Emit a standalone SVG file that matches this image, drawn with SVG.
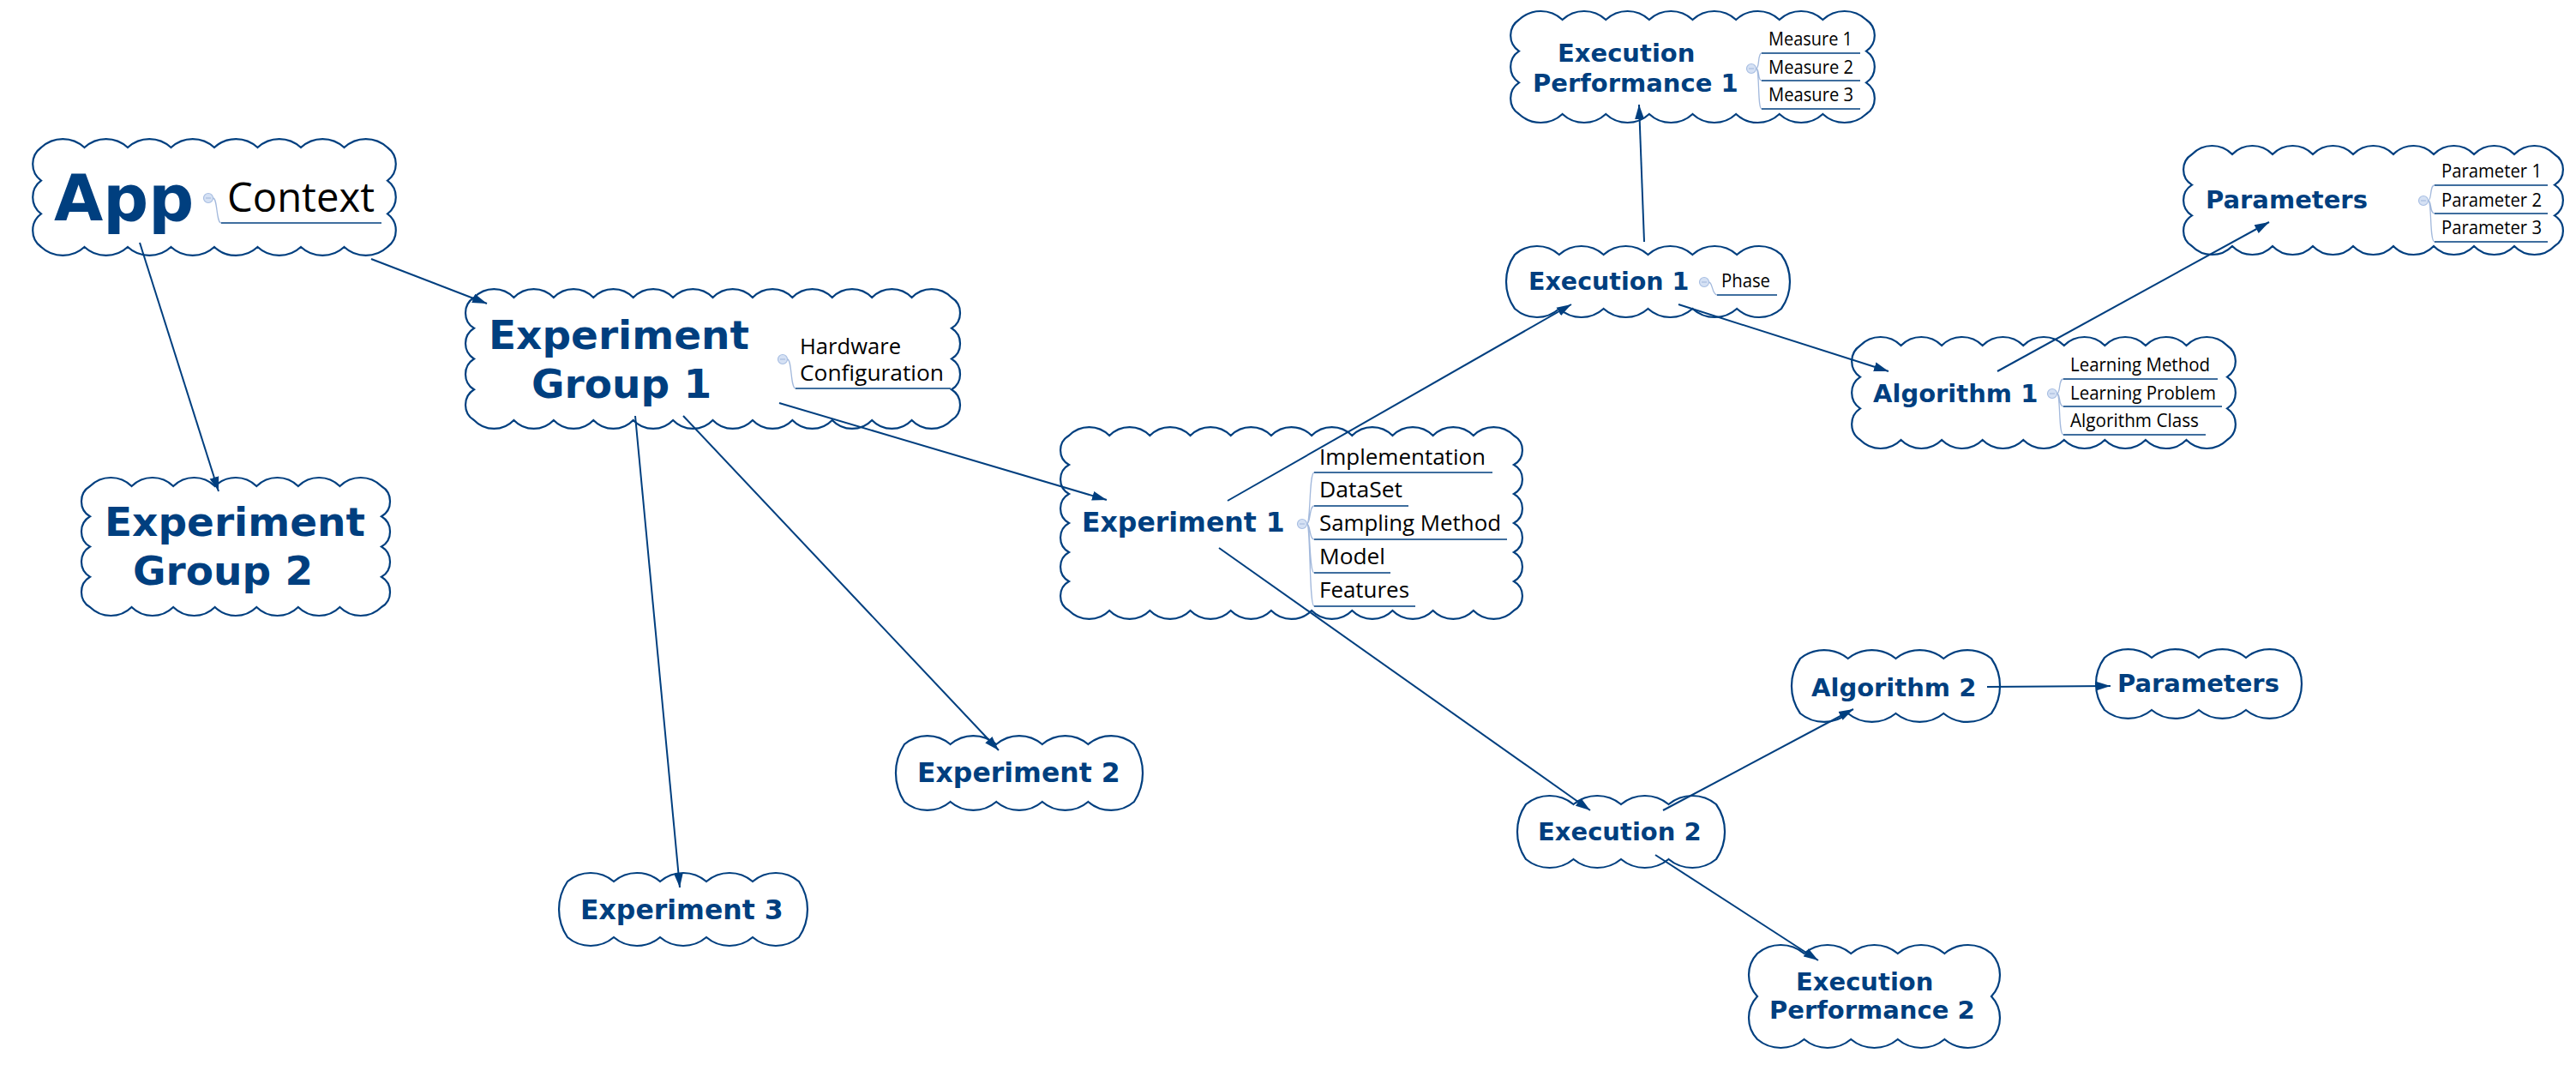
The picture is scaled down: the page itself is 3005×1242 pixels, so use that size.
<svg xmlns="http://www.w3.org/2000/svg" width="3005" height="1242" viewBox="0 0 3005 1242">
<style>
.cloud{fill:#fff;stroke:#003f7f;stroke-width:2.2}
.t{font-family:"DejaVu Sans",sans-serif;font-weight:bold;fill:#003f7f}
.s{font-family:"Open Sans","DejaVu Sans",sans-serif;fill:#000}
.ul{stroke:#003f7f;stroke-width:1.5;fill:none}
.br{stroke:#a3b9dc;stroke-width:1.3;fill:none}
.dot{fill:#d5e1f4;stroke:#a9bfe2;stroke-width:1.2}
.dm{stroke:#9fb5da;stroke-width:1}
.conn{stroke:#003f7f;stroke-width:2;fill:none;marker-end:url(#arr)}
</style>
<defs>
<marker id="arr" markerWidth="18" markerHeight="12" refX="17" refY="6" orient="auto" markerUnits="userSpaceOnUse"><path d="M0,0.5 L17,6 L0,11.5 z" fill="#003f7f"/></marker>
</defs>
<rect width="3005" height="1242" fill="#fff"/>

<g id="app">
<path class="cloud" d="M48 172 a37 37 0 0 1 50.5 0 a37 37 0 0 1 50.5 0 a37 37 0 0 1 50.5 0 a37 37 0 0 1 50.5 0 a37 37 0 0 1 50.5 0 a37 37 0 0 1 50.5 0 a37 37 0 0 1 50.5 0 a37 37 0 0 1 50.5 0 a24 24 0 0 1 0 38.67 a24 24 0 0 1 0 38.67 a24 24 0 0 1 0 38.67 a37 37 0 0 1 -50.5 0 a37 37 0 0 1 -50.5 0 a37 37 0 0 1 -50.5 0 a37 37 0 0 1 -50.5 0 a37 37 0 0 1 -50.5 0 a37 37 0 0 1 -50.5 0 a37 37 0 0 1 -50.5 0 a37 37 0 0 1 -50.5 0 a24 24 0 0 1 0 -38.67 a24 24 0 0 1 0 -38.67 a24 24 0 0 1 0 -38.67 z"/>
<text class="t" x="63" y="257" font-size="74">App</text>
<path class="br" d="M248.5 231 C254 231 252 260 258 260"/>
<circle class="dot" cx="243" cy="231" r="5.5"/><path class="dm" d="M240 231 H246"/>
<path class="ul" d="M258 260 H445"/>
<text class="s" x="265" y="247" font-size="48" textLength="172" lengthAdjust="spacingAndGlyphs">Context</text>
</g>

<g id="experiment-group-1">
<path class="cloud" d="M553 347 a32 32 0 0 1 46.42 0 a32 32 0 0 1 46.42 0 a32 32 0 0 1 46.42 0 a32 32 0 0 1 46.42 0 a32 32 0 0 1 46.42 0 a32 32 0 0 1 46.42 0 a32 32 0 0 1 46.42 0 a32 32 0 0 1 46.42 0 a32 32 0 0 1 46.42 0 a32 32 0 0 1 46.42 0 a32 32 0 0 1 46.42 0 a32 32 0 0 1 46.42 0 a21 21 0 0 1 0 35.75 a21 21 0 0 1 0 35.75 a21 21 0 0 1 0 35.75 a21 21 0 0 1 0 35.75 a32 32 0 0 1 -46.42 0 a32 32 0 0 1 -46.42 0 a32 32 0 0 1 -46.42 0 a32 32 0 0 1 -46.42 0 a32 32 0 0 1 -46.42 0 a32 32 0 0 1 -46.42 0 a32 32 0 0 1 -46.42 0 a32 32 0 0 1 -46.42 0 a32 32 0 0 1 -46.42 0 a32 32 0 0 1 -46.42 0 a32 32 0 0 1 -46.42 0 a32 32 0 0 1 -46.42 0 a21 21 0 0 1 0 -35.75 a21 21 0 0 1 0 -35.75 a21 21 0 0 1 0 -35.75 a21 21 0 0 1 0 -35.75 z"/>
<text class="t" x="570" y="407" font-size="47">Experiment</text>
<text class="t" x="620" y="464" font-size="47">Group 1</text>
<path class="br" d="M918.5 419 C924 419 922 453 928 453"/>
<circle class="dot" cx="913" cy="419" r="5.5"/><path class="dm" d="M910 419 H916"/>
<path class="ul" d="M928 453 H1109"/>
<text class="s" x="933" y="413" font-size="25" textLength="118" lengthAdjust="spacingAndGlyphs">Hardware</text>
<text class="s" x="933" y="444" font-size="25" textLength="168" lengthAdjust="spacingAndGlyphs">Configuration</text>
</g>

<g id="experiment-group-2">
<path class="cloud" d="M105 567 a34.5 34.5 0 0 1 48.57 0 a34.5 34.5 0 0 1 48.57 0 a34.5 34.5 0 0 1 48.57 0 a34.5 34.5 0 0 1 48.57 0 a34.5 34.5 0 0 1 48.57 0 a34.5 34.5 0 0 1 48.57 0 a34.5 34.5 0 0 1 48.57 0 a20.5 20.5 0 0 1 0 35.25 a20.5 20.5 0 0 1 0 35.25 a20.5 20.5 0 0 1 0 35.25 a20.5 20.5 0 0 1 0 35.25 a34.5 34.5 0 0 1 -48.57 0 a34.5 34.5 0 0 1 -48.57 0 a34.5 34.5 0 0 1 -48.57 0 a34.5 34.5 0 0 1 -48.57 0 a34.5 34.5 0 0 1 -48.57 0 a34.5 34.5 0 0 1 -48.57 0 a34.5 34.5 0 0 1 -48.57 0 a20.5 20.5 0 0 1 0 -35.25 a20.5 20.5 0 0 1 0 -35.25 a20.5 20.5 0 0 1 0 -35.25 a20.5 20.5 0 0 1 0 -35.25 z"/>
<text class="t" x="122" y="625" font-size="47">Experiment</text>
<text class="t" x="155" y="682" font-size="47">Group 2</text>
</g>

<g id="experiment-1">
<path class="cloud" d="M1247 508 a33 33 0 0 1 47.18 0 a33 33 0 0 1 47.18 0 a33 33 0 0 1 47.18 0 a33 33 0 0 1 47.18 0 a33 33 0 0 1 47.18 0 a33 33 0 0 1 47.18 0 a33 33 0 0 1 47.18 0 a33 33 0 0 1 47.18 0 a33 33 0 0 1 47.18 0 a33 33 0 0 1 47.18 0 a33 33 0 0 1 47.18 0 a19.5 19.5 0 0 1 0 34 a19.5 19.5 0 0 1 0 34 a19.5 19.5 0 0 1 0 34 a19.5 19.5 0 0 1 0 34 a19.5 19.5 0 0 1 0 34 a19.5 19.5 0 0 1 0 34 a33 33 0 0 1 -47.18 0 a33 33 0 0 1 -47.18 0 a33 33 0 0 1 -47.18 0 a33 33 0 0 1 -47.18 0 a33 33 0 0 1 -47.18 0 a33 33 0 0 1 -47.18 0 a33 33 0 0 1 -47.18 0 a33 33 0 0 1 -47.18 0 a33 33 0 0 1 -47.18 0 a33 33 0 0 1 -47.18 0 a33 33 0 0 1 -47.18 0 a19.5 19.5 0 0 1 0 -34 a19.5 19.5 0 0 1 0 -34 a19.5 19.5 0 0 1 0 -34 a19.5 19.5 0 0 1 0 -34 a19.5 19.5 0 0 1 0 -34 a19.5 19.5 0 0 1 0 -34 z"/>
<text class="t" x="1262" y="620" font-size="31.5">Experiment 1</text>
<path class="br" d="M1524.5 611 C1529 611 1527 551 1533 551 M1524.5 611 C1529 611 1527 590 1533 590 M1524.5 611 C1529 611 1527 629 1533 629 M1524.5 611 C1529 611 1527 668 1533 668 M1524.5 611 C1529 611 1527 707 1533 707"/>
<circle class="dot" cx="1519" cy="611" r="5.5"/><path class="dm" d="M1516 611 H1522"/>
<path class="ul" d="M1533 551 H1741 M1533 590 H1643 M1533 629 H1758 M1533 668 H1622 M1533 707 H1651"/>
<text class="s" x="1539" y="542" font-size="25" textLength="194" lengthAdjust="spacingAndGlyphs">Implementation</text>
<text class="s" x="1539" y="580" font-size="25" textLength="97" lengthAdjust="spacingAndGlyphs">DataSet</text>
<text class="s" x="1539" y="619" font-size="25" textLength="212" lengthAdjust="spacingAndGlyphs">Sampling Method</text>
<text class="s" x="1539" y="658" font-size="25" textLength="77" lengthAdjust="spacingAndGlyphs">Model</text>
<text class="s" x="1539" y="697" font-size="25" textLength="105" lengthAdjust="spacingAndGlyphs">Features</text>
</g>

<g id="execution-performance-1">
<path class="cloud" d="M1772 23 a37 37 0 0 1 50.625 0 a37 37 0 0 1 50.625 0 a37 37 0 0 1 50.625 0 a37 37 0 0 1 50.625 0 a37 37 0 0 1 50.625 0 a37 37 0 0 1 50.625 0 a37 37 0 0 1 50.625 0 a37 37 0 0 1 50.625 0 a22 22 0 0 1 0 36.67 a22 22 0 0 1 0 36.67 a22 22 0 0 1 0 36.67 a37 37 0 0 1 -50.625 0 a37 37 0 0 1 -50.625 0 a37 37 0 0 1 -50.625 0 a37 37 0 0 1 -50.625 0 a37 37 0 0 1 -50.625 0 a37 37 0 0 1 -50.625 0 a37 37 0 0 1 -50.625 0 a37 37 0 0 1 -50.625 0 a22 22 0 0 1 0 -36.67 a22 22 0 0 1 0 -36.67 a22 22 0 0 1 0 -36.67 z"/>
<text class="t" x="1817" y="72" font-size="29">Execution</text>
<text class="t" x="1788" y="107" font-size="29">Performance 1</text>
<path class="br" d="M2048.5 80 C2053 80 2050 62 2055 62 M2048.5 80 C2053 80 2050 94 2055 94 M2048.5 80 C2053 80 2050 127 2055 127"/>
<circle class="dot" cx="2043" cy="80" r="5.5"/><path class="dm" d="M2040 80 H2046"/>
<path class="ul" d="M2055 62 H2170 M2055 94 H2170 M2055 127 H2170"/>
<text class="s" x="2063" y="53" font-size="21.5" textLength="98" lengthAdjust="spacingAndGlyphs">Measure 1</text>
<text class="s" x="2063" y="86" font-size="21.5" textLength="99" lengthAdjust="spacingAndGlyphs">Measure 2</text>
<text class="s" x="2063" y="118" font-size="21.5" textLength="99" lengthAdjust="spacingAndGlyphs">Measure 3</text>
</g>

<g id="execution-1">
<path class="cloud" d="M1767 297 a38.6 38.6 0 0 1 51.83 0 a38.6 38.6 0 0 1 51.83 0 a38.6 38.6 0 0 1 51.83 0 a38.6 38.6 0 0 1 51.83 0 a38.6 38.6 0 0 1 51.83 0 a38.6 38.6 0 0 1 51.83 0 a54.6 54.6 0 0 1 0 63 a38.6 38.6 0 0 1 -51.83 0 a38.6 38.6 0 0 1 -51.83 0 a38.6 38.6 0 0 1 -51.83 0 a38.6 38.6 0 0 1 -51.83 0 a38.6 38.6 0 0 1 -51.83 0 a38.6 38.6 0 0 1 -51.83 0 a54.6 54.6 0 0 1 0 -63 z"/>
<text class="t" x="1783" y="338" font-size="28.5">Execution 1</text>
<path class="br" d="M1993.5 329 C1998 329 1997 344 2003 344"/>
<circle class="dot" cx="1988" cy="329" r="5.5"/><path class="dm" d="M1985 329 H1991"/>
<path class="ul" d="M2003 344 H2073"/>
<text class="s" x="2008" y="335" font-size="21.5" textLength="57" lengthAdjust="spacingAndGlyphs">Phase</text>
</g>

<g id="algorithm-1">
<path class="cloud" d="M2170 403 a33.3 33.3 0 0 1 47.56 0 a33.3 33.3 0 0 1 47.56 0 a33.3 33.3 0 0 1 47.56 0 a33.3 33.3 0 0 1 47.56 0 a33.3 33.3 0 0 1 47.56 0 a33.3 33.3 0 0 1 47.56 0 a33.3 33.3 0 0 1 47.56 0 a33.3 33.3 0 0 1 47.56 0 a33.3 33.3 0 0 1 47.56 0 a22 22 0 0 1 0 36.67 a22 22 0 0 1 0 36.67 a22 22 0 0 1 0 36.67 a33.3 33.3 0 0 1 -47.56 0 a33.3 33.3 0 0 1 -47.56 0 a33.3 33.3 0 0 1 -47.56 0 a33.3 33.3 0 0 1 -47.56 0 a33.3 33.3 0 0 1 -47.56 0 a33.3 33.3 0 0 1 -47.56 0 a33.3 33.3 0 0 1 -47.56 0 a33.3 33.3 0 0 1 -47.56 0 a33.3 33.3 0 0 1 -47.56 0 a22 22 0 0 1 0 -36.67 a22 22 0 0 1 0 -36.67 a22 22 0 0 1 0 -36.67 z"/>
<text class="t" x="2185" y="469" font-size="29">Algorithm 1</text>
<path class="br" d="M2399.5 459 C2404 459 2401 442 2407 442 M2399.5 459 C2404 459 2401 474 2407 474 M2399.5 459 C2404 459 2401 507 2407 507"/>
<circle class="dot" cx="2394" cy="459" r="5.5"/><path class="dm" d="M2391 459 H2397"/>
<path class="ul" d="M2407 442 H2587 M2407 474 H2592 M2407 507 H2573"/>
<text class="s" x="2415" y="433" font-size="21.5" textLength="163" lengthAdjust="spacingAndGlyphs">Learning Method</text>
<text class="s" x="2415" y="466" font-size="21.5" textLength="170" lengthAdjust="spacingAndGlyphs">Learning Problem</text>
<text class="s" x="2415" y="498" font-size="21.5" textLength="150" lengthAdjust="spacingAndGlyphs">Algorithm Class</text>
</g>

<g id="parameters-1">
<path class="cloud" d="M2557 180 a32.6 32.6 0 0 1 47 0 a32.6 32.6 0 0 1 47 0 a32.6 32.6 0 0 1 47 0 a32.6 32.6 0 0 1 47 0 a32.6 32.6 0 0 1 47 0 a32.6 32.6 0 0 1 47 0 a32.6 32.6 0 0 1 47 0 a32.6 32.6 0 0 1 47 0 a32.6 32.6 0 0 1 47 0 a21 21 0 0 1 0 35.67 a21 21 0 0 1 0 35.67 a21 21 0 0 1 0 35.67 a32.6 32.6 0 0 1 -47 0 a32.6 32.6 0 0 1 -47 0 a32.6 32.6 0 0 1 -47 0 a32.6 32.6 0 0 1 -47 0 a32.6 32.6 0 0 1 -47 0 a32.6 32.6 0 0 1 -47 0 a32.6 32.6 0 0 1 -47 0 a32.6 32.6 0 0 1 -47 0 a32.6 32.6 0 0 1 -47 0 a21 21 0 0 1 0 -35.67 a21 21 0 0 1 0 -35.67 a21 21 0 0 1 0 -35.67 z"/>
<text class="t" x="2573" y="243" font-size="29">Parameters</text>
<path class="br" d="M2832.5 234 C2837 234 2834 216 2840 216 M2832.5 234 C2837 234 2834 249 2840 249 M2832.5 234 C2837 234 2834 282 2840 282"/>
<circle class="dot" cx="2827" cy="234" r="5.5"/><path class="dm" d="M2824 234 H2830"/>
<path class="ul" d="M2840 216 H2972 M2840 249 H2972 M2840 282 H2972"/>
<text class="s" x="2848" y="207" font-size="21.5" textLength="117" lengthAdjust="spacingAndGlyphs">Parameter 1</text>
<text class="s" x="2848" y="241" font-size="21.5" textLength="117" lengthAdjust="spacingAndGlyphs">Parameter 2</text>
<text class="s" x="2848" y="273" font-size="21.5" textLength="117" lengthAdjust="spacingAndGlyphs">Parameter 3</text>
</g>

<g id="experiment-2">
<path class="cloud" d="M1055 868 a41 41 0 0 1 53.6 0 a41 41 0 0 1 53.6 0 a41 41 0 0 1 53.6 0 a41 41 0 0 1 53.6 0 a41 41 0 0 1 53.6 0 a61 61 0 0 1 0 67 a41 41 0 0 1 -53.6 0 a41 41 0 0 1 -53.6 0 a41 41 0 0 1 -53.6 0 a41 41 0 0 1 -53.6 0 a41 41 0 0 1 -53.6 0 a61 61 0 0 1 0 -67 z"/>
<text class="t" x="1070" y="912" font-size="31.5">Experiment 2</text>
</g>

<g id="experiment-3">
<path class="cloud" d="M662 1028 a41.5 41.5 0 0 1 54 0 a41.5 41.5 0 0 1 54 0 a41.5 41.5 0 0 1 54 0 a41.5 41.5 0 0 1 54 0 a41.5 41.5 0 0 1 54 0 a58 58 0 0 1 0 65 a41.5 41.5 0 0 1 -54 0 a41.5 41.5 0 0 1 -54 0 a41.5 41.5 0 0 1 -54 0 a41.5 41.5 0 0 1 -54 0 a41.5 41.5 0 0 1 -54 0 a58 58 0 0 1 0 -65 z"/>
<text class="t" x="677" y="1072" font-size="31.5">Experiment 3</text>
</g>

<g id="algorithm-2">
<path class="cloud" d="M2100 768 a44 44 0 0 1 55.75 0 a44 44 0 0 1 55.75 0 a44 44 0 0 1 55.75 0 a44 44 0 0 1 55.75 0 a56 56 0 0 1 0 64 a44 44 0 0 1 -55.75 0 a44 44 0 0 1 -55.75 0 a44 44 0 0 1 -55.75 0 a44 44 0 0 1 -55.75 0 a56 56 0 0 1 0 -64 z"/>
<text class="t" x="2113" y="812" font-size="29">Algorithm 2</text>
</g>

<g id="parameters-2">
<path class="cloud" d="M2455 767 a43 43 0 0 1 55 0 a43 43 0 0 1 55 0 a43 43 0 0 1 55 0 a43 43 0 0 1 55 0 a51.5 51.5 0 0 1 0 61 a43 43 0 0 1 -55 0 a43 43 0 0 1 -55 0 a43 43 0 0 1 -55 0 a43 43 0 0 1 -55 0 a51.5 51.5 0 0 1 0 -61 z"/>
<text class="t" x="2470" y="807" font-size="29">Parameters</text>
</g>

<g id="execution-2">
<path class="cloud" d="M1780 938 a43.5 43.5 0 0 1 55.5 0 a43.5 43.5 0 0 1 55.5 0 a43.5 43.5 0 0 1 55.5 0 a43.5 43.5 0 0 1 55.5 0 a56 56 0 0 1 0 64 a43.5 43.5 0 0 1 -55.5 0 a43.5 43.5 0 0 1 -55.5 0 a43.5 43.5 0 0 1 -55.5 0 a43.5 43.5 0 0 1 -55.5 0 a56 56 0 0 1 0 -64 z"/>
<text class="t" x="1794" y="980" font-size="29">Execution 2</text>
</g>

<g id="execution-performance-2">
<path class="cloud" d="M2050 1112 a42.3 42.3 0 0 1 54.6 0 a42.3 42.3 0 0 1 54.6 0 a42.3 42.3 0 0 1 54.6 0 a42.3 42.3 0 0 1 54.6 0 a42.3 42.3 0 0 1 54.6 0 a36.3 36.3 0 0 1 0 50 a36.3 36.3 0 0 1 0 50 a42.3 42.3 0 0 1 -54.6 0 a42.3 42.3 0 0 1 -54.6 0 a42.3 42.3 0 0 1 -54.6 0 a42.3 42.3 0 0 1 -54.6 0 a42.3 42.3 0 0 1 -54.6 0 a36.3 36.3 0 0 1 0 -50 a36.3 36.3 0 0 1 0 -50 z"/>
<text class="t" x="2095" y="1155" font-size="29">Execution</text>
<text class="t" x="2064" y="1188" font-size="29">Performance 2</text>
</g>

<g id="connectors">
<path class="conn" d="M433 302 L568 354"/>
<path class="conn" d="M163 283 L255 573"/>
<path class="conn" d="M909 470 L1291 583"/>
<path class="conn" d="M797 485 L1165 875"/>
<path class="conn" d="M741 485 L793 1035"/>
<path class="conn" d="M1432 584 L1833 355"/>
<path class="conn" d="M1422 639 L1855 945"/>
<path class="conn" d="M1918 282 L1912 122"/>
<path class="conn" d="M1958 355 L2203 433"/>
<path class="conn" d="M2330 433 L2647 259"/>
<path class="conn" d="M1940 945 L2162 827"/>
<path class="conn" d="M2318 801 L2462 800"/>
<path class="conn" d="M1931 997 L2121 1120"/>
</g>
</svg>
